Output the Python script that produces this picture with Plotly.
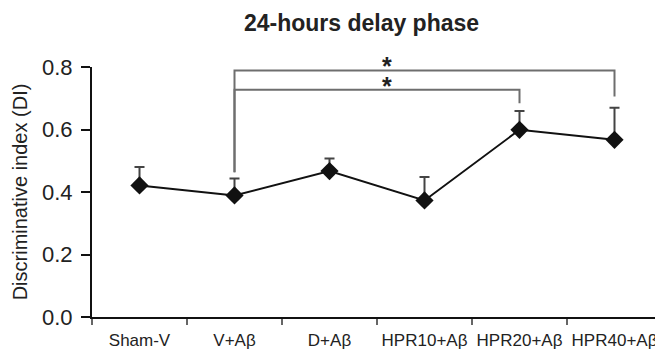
import plotly.graph_objects as go

categories = ["Sham-V", "V+Aβ", "D+Aβ", "HPR10+Aβ", "HPR20+Aβ", "HPR40+Aβ"]
di_mean = [0.421, 0.389, 0.467, 0.373, 0.599, 0.567]
di_err_up = [0.059, 0.054, 0.040, 0.075, 0.060, 0.103]

# significance brackets: (from, to, bracket height, leg bottom left, leg bottom right)
brk_from = ["V+Aβ", "V+Aβ"]
brk_to = ["HPR40+Aβ", "HPR20+Aβ"]
brk_top = [0.789, 0.727]
brk_left_bottom = [0.463, 0.463]
brk_right_bottom = [0.706, 0.684]
brk_label = ["*", "*"]
star_x = [2.6, 2.6]

fig = go.Figure()

for f, t, h, lb, rb in zip(brk_from, brk_to, brk_top, brk_left_bottom, brk_right_bottom):
    fig.add_trace(go.Scatter(
        x=[f, f, t, t], y=[lb, h, h, rb], mode="lines",
        line=dict(color="#6e6e6e", width=2), showlegend=False, hoverinfo="skip"))

fig.add_trace(go.Scatter(
    x=categories, y=di_mean, mode="lines+markers",
    line=dict(color="#111111", width=2),
    marker=dict(symbol="diamond", size=14, color="#111111"),
    error_y=dict(type="data", symmetric=False, array=di_err_up,
                 arrayminus=[0] * len(di_err_up), color="#444444",
                 thickness=2, width=5),
    showlegend=False))

for sx, sy, lab in zip(star_x, brk_top, brk_label):
    fig.add_annotation(x=sx, y=sy, text="<b>" + lab + "</b>", showarrow=False,
                       font=dict(size=25, color="#222222", family="Liberation Sans, Arial"),
                       yanchor="bottom", yshift=-12)

# the page body has an 8px margin, so the figure is sized 8px smaller
fig.update_layout(
    width=655, height=344,
    margin=dict(l=84, r=1, t=59, b=35),
    paper_bgcolor="white", plot_bgcolor="white",
    font=dict(family="Liberation Sans, Arial, sans-serif", color="#222222"),
    title=dict(text="<b>24-hours delay phase</b>", x=0.5397, xref="container",
               xanchor="center", y=0.956, yref="container", yanchor="middle",
               font=dict(size=23, color="#222222")),
    xaxis=dict(type="category", categoryorder="array", categoryarray=categories,
               range=[-0.5, 5.5], showline=True, automargin=False,
               linecolor="#111111", linewidth=2, ticks="outside",
               tickson="boundaries", ticklen=6, tickcolor="#666666", tickwidth=2,
               tickfont=dict(size=17), tickangle=0, showgrid=False, zeroline=False,
               ticklabelstandoff=7),
    yaxis=dict(range=[0, 0.8], tickvals=[0, 0.2, 0.4, 0.6, 0.8], automargin=False,
               tickformat=".1f", showline=True, linecolor="#111111", linewidth=2,
               ticks="outside", ticklen=9, tickcolor="#111111", tickwidth=2,
               tickfont=dict(size=22), showgrid=False, zeroline=False,
               ticklabelstandoff=4,
               title=dict(text="Discriminative index (DI)", font=dict(size=20),
                          standoff=9)),
)

fig.write_html("out.html")
